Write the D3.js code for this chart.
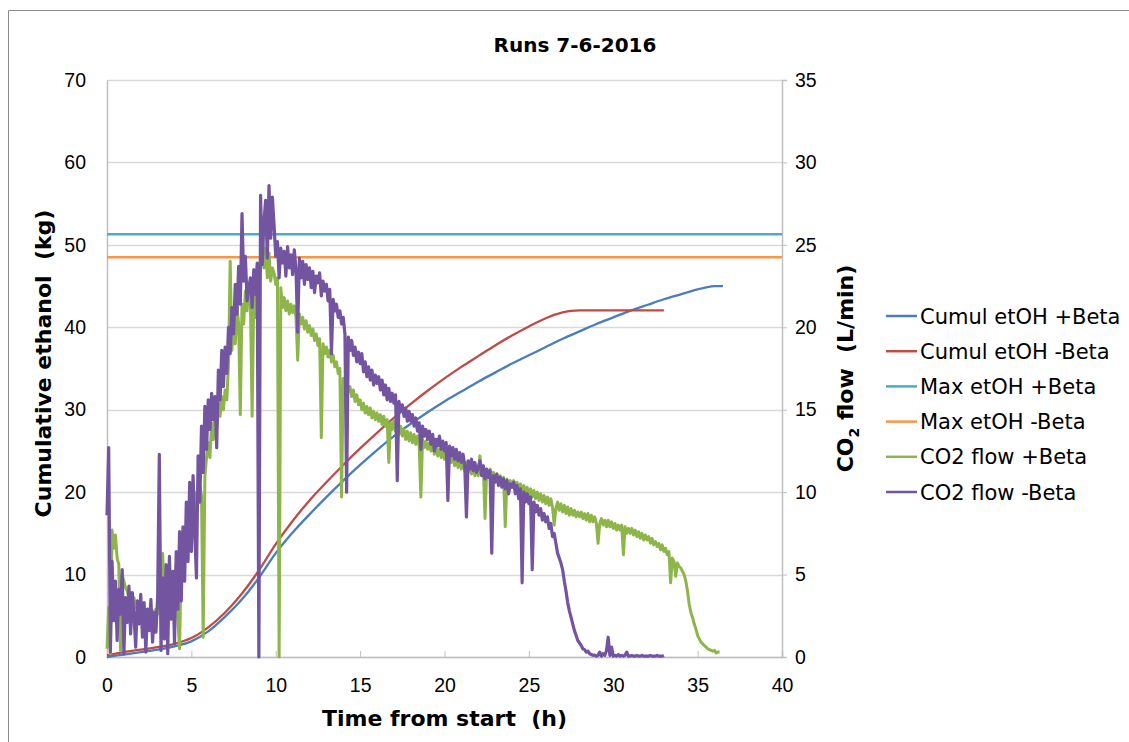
<!DOCTYPE html>
<html>
<head>
<meta charset="utf-8">
<script src="https://cdn.jsdelivr.net/npm/d3@7"></script>
<style>
  body { margin: 0; background: #fff; }
  svg { display: block; font-family: "DejaVu Sans", Verdana, sans-serif; }
</style>
</head>
<body>
<svg width="1129" height="742"></svg>
<script>
// cumulative ethanol (kg), left axis
const cumulPlusTime = [0, 1, 2, 3, 4, 5, 6, 7, 8, 9, 10, 11, 12, 13, 14, 15, 16, 17, 18, 19, 20, 21, 22, 23, 24, 25, 26, 27, 28, 29, 30, 31, 32, 33, 34, 35, 35.5, 36, 36.5];
const cumulPlus = [0, 0.3, 0.6, 0.9, 1.3, 1.9, 3.1, 4.9, 7.0, 9.6, 12.6, 15.1, 17.3, 19.4, 21.4, 23.3, 25.1, 26.8, 28.3, 29.7, 31.0, 32.2, 33.4, 34.5, 35.6, 36.6, 37.6, 38.6, 39.5, 40.4, 41.2, 42.0, 42.7, 43.4, 44.0, 44.6, 44.85, 45.0, 45.0];
const cumulMinusTime = [0, 1, 2, 3, 4, 5, 6, 7, 8, 9, 10, 11, 12, 13, 14, 15, 16, 17, 18, 19, 20, 21, 22, 23, 24, 25, 26, 27, 27.5, 28, 29, 30, 31, 32, 33];
const cumulMinus = [0.2, 0.6, 0.9, 1.2, 1.6, 2.3, 3.6, 5.4, 7.7, 10.5, 13.7, 16.5, 19.0, 21.2, 23.3, 25.3, 27.2, 29.0, 30.7, 32.3, 33.8, 35.2, 36.5, 37.8, 39.0, 40.1, 41.1, 41.8, 42.0, 42.05, 42.05, 42.05, 42.05, 42.05, 42.05];
const maxPlus = 51.3;
const maxMinus = 48.5;

// CO2 flow (L/min), right axis, logged every 0.1 h
const co2Step = 0.1;
const co2Plus = [
  0.5, 3.0, 0.2, 7.7, 6.6, 7.4, 6.0, 5.6, 0.4, 5.0,
  4.6, 4.2, 4.0, 3.6, 3.9, 3.3, 3.6, 3.0, 3.4, 2.8,
  3.2, 2.6, 3.0, 2.4, 2.9, 2.7, 2.2, 2.8, 2.5, 2.9,
  2.6, 3.4, 3.0, 6.3, 3.6, 4.2, 3.4, 4.8, 3.9, 5.2,
  4.4, 5.6, 2.2, 0.5, 5.9, 6.8, 6.1, 7.6, 7.0, 8.4,
  7.8, 9.2, 8.6, 10.0, 9.4, 10.4, 9.8, 1.2, 11.0, 12.1,
  13.0, 12.1, 14.2, 13.2, 14.8, 14.0, 15.4, 14.6, 15.8, 15.0,
  16.2, 15.6, 17.8, 24.0, 18.6, 20.0, 19.0, 21.2, 20.2, 14.7,
  21.4, 20.2, 22.2, 21.0, 22.6, 21.5, 14.6, 22.0, 20.6, 22.8,
  21.8, 24.4, 25.7, 23.6, 24.8, 23.0, 24.5, 22.8, 23.6, 23.3,
  22.6, 23.0, 0.0, 22.4, 21.2, 21.8, 21.0, 21.6, 20.8, 21.4,
  20.9, 21.3, 20.6, 18.0, 20.8, 20.2, 20.6, 19.9, 20.4, 19.7,
  20.1, 19.5, 19.9, 19.2, 19.6, 18.9, 19.3, 13.3, 19.0, 18.4,
  18.8, 18.2, 18.6, 17.9, 18.3, 17.6, 17.9, 17.2, 17.5, 9.7,
  16.9, 16.4, 16.8, 16.1, 16.4, 15.8, 16.2, 15.5, 15.9, 15.3,
  15.6, 15.0, 15.4, 14.8, 15.2, 14.7, 15.1, 14.5, 14.9, 14.4,
  14.8, 14.3, 14.7, 14.1, 14.6, 14.0, 14.4, 11.8, 14.2, 13.8,
  14.3, 13.7, 14.1, 13.5, 14.0, 13.4, 13.8, 13.2, 13.7, 13.1,
  13.6, 13.0, 13.5, 12.9, 13.4, 12.8, 9.7, 13.2, 12.7, 13.1,
  12.6, 13.0, 12.5, 12.9, 12.3, 12.8, 12.2, 12.6, 12.1, 12.5,
  12.0, 12.4, 11.9, 12.3, 11.8, 12.2, 11.6, 12.1, 11.5, 12.0,
  11.4, 11.9, 11.3, 11.8, 11.2, 11.7, 11.1, 11.6, 11.0, 11.5,
  11.0, 12.2, 11.2, 11.6, 8.4, 11.3, 10.9, 11.4, 10.8, 11.2,
  10.7, 11.1, 10.6, 11.0, 10.5, 10.9, 7.9, 10.8, 10.4, 10.7,
  10.3, 10.7, 10.2, 10.6, 10.1, 10.5, 10.0, 10.4, 9.9, 10.3,
  9.8, 10.2, 9.7, 10.1, 9.6, 10.0, 9.5, 9.9, 9.4, 9.8,
  9.3, 9.7, 9.2, 9.6, 9.1, 8.0, 9.0, 9.4, 8.9, 9.3,
  8.8, 9.2, 8.7, 9.1, 8.6, 9.0, 8.6, 8.9, 8.5, 8.8,
  8.5, 8.8, 8.4, 8.7, 8.3, 8.7, 8.2, 8.6, 8.2, 8.5,
  8.1, 6.9, 8.1, 8.4, 8.0, 8.3, 7.9, 8.3, 7.9, 8.2,
  7.8, 8.1, 7.7, 8.0, 7.7, 8.0, 6.2, 7.9, 7.5, 7.8,
  7.5, 7.8, 7.4, 7.7, 7.3, 7.6, 7.2, 7.5, 7.1, 7.4,
  7.1, 7.3, 6.9, 7.2, 6.8, 7.0, 6.7, 6.9, 6.5, 6.8,
  6.4, 6.6, 6.2, 6.4, 4.5, 6.0, 5.8, 4.9, 5.7, 5.5,
  5.4, 5.2, 5.0, 4.6, 4.0, 3.2, 2.7, 2.4, 2.0, 1.7,
  1.3, 1.1, 0.9, 0.8, 0.7, 0.6, 0.5, 0.45, 0.4, 0.35,
  0.4, 0.25, 0.3, 0.3
];
const co2Minus = [
  8.6, 12.7, 0.3, 5.8, 2.2, 4.6, 1.0, 4.1, 2.6, 5.3,
  0.2, 3.6, 2.1, 4.3, 1.4, 3.9, 2.5, 0.6, 3.4, 2.0,
  3.8, 1.2, 3.3, 0.3, 2.9, 1.6, 3.5, 0.9, 2.7, 1.5,
  3.6, 12.3, 0.4, 4.8, 1.1, 5.6, 0.2, 6.1, 2.3, 5.2,
  0.8, 6.4, 2.9, 7.6, 3.4, 7.9, 4.6, 9.4, 5.8, 10.6,
  6.4, 11.0, 7.6, 4.8, 12.2, 9.4, 14.0, 11.2, 15.2, 12.6,
  15.6, 13.8, 16.0, 14.4, 15.8, 12.7, 17.4, 15.6, 18.6, 16.4,
  18.8, 17.2, 20.0, 18.4, 21.2, 19.6, 22.6, 20.8, 23.7, 21.4,
  26.9, 22.8, 24.3, 21.6, 22.4, 23.0, 21.2, 23.5, 22.0, 23.9,
  0.0, 28.0, 23.8, 26.4, 27.7, 24.2, 28.6, 25.4, 27.9, 26.2,
  24.3, 25.2, 23.0, 24.8, 23.9, 24.6, 23.1, 24.9, 23.6, 24.4,
  23.2, 24.7, 23.5, 19.7, 24.2, 23.0, 24.0, 22.6, 23.8, 22.9,
  23.6, 22.4, 23.4, 22.1, 23.1, 22.7, 23.3, 21.9, 22.8, 22.2,
  22.6, 21.6, 22.3, 18.4, 21.7, 21.0, 21.4, 20.6, 21.0, 20.2,
  20.6, 19.6, 10.0, 19.4, 18.6, 19.2, 18.3, 18.8, 17.9, 18.5,
  17.8, 18.4, 17.3, 17.9, 17.0, 17.6, 16.8, 17.4, 16.5, 17.1,
  16.6, 17.0, 16.2, 16.8, 15.9, 16.5, 15.6, 16.3, 15.5, 16.0,
  15.4, 15.9, 10.7, 15.5, 14.9, 15.3, 14.6, 15.1, 14.3, 14.9,
  14.3, 14.7, 14.0, 14.5, 13.7, 14.2, 12.6, 14.0, 13.4, 13.8,
  13.2, 13.7, 12.9, 13.5, 12.5, 13.2, 12.8, 13.4, 12.6, 13.1,
  12.5, 13.0, 9.5, 12.8, 12.2, 12.7, 12.0, 12.6, 11.9, 12.4,
  11.8, 12.3, 11.6, 8.5, 11.9, 11.4, 12.0, 11.3, 11.8, 11.2,
  11.5, 11.9, 11.0, 11.6, 10.8, 11.4, 10.9, 11.3, 6.3, 11.0,
  10.6, 11.1, 10.4, 10.9, 10.3, 10.8, 10.2, 10.7, 9.9, 10.5,
  10.3, 10.6, 9.9, 10.4, 9.6, 10.2, 4.5, 10.0, 9.4, 9.9,
  9.3, 9.7, 5.3, 9.4, 8.8, 9.2, 8.6, 9.0, 8.3, 8.7,
  8.2, 8.5, 7.8, 8.1, 7.3, 7.5, 6.9, 6.3, 6.0, 5.7,
  5.3, 4.6, 4.0, 3.3, 2.8, 2.4, 2.0, 1.6, 1.3, 1.0,
  0.85, 0.7, 0.5, 0.45, 0.3, 0.35, 0.2, 0.15, 0.1, 0.12,
  0.05, 0.1, 0.3, 0.05, 0.2, 0.1, 0.4, 1.2, 0.1, 0.6,
  0.05, 0.1, 0.05, 0.15, 0.05, 0.1, 0.05, 0.1, 0.3, 0.05,
  0.05, 0.1, 0.05, 0.05, 0.1, 0.05, 0.05, 0.1, 0.05, 0.05,
  0.05, 0.05, 0.1, 0.05, 0.05, 0.05, 0.1, 0.05, 0.05, 0.05,
  0.1
];

const xTicks = [0, 5, 10, 15, 20, 25, 30, 35, 40];
const leftTicks = [0, 10, 20, 30, 40, 50, 60, 70];
const rightTicks = [0, 5, 10, 15, 20, 25, 30, 35];

const legendNames = ['Cumul etOH +Beta', 'Cumul etOH -Beta', 'Max etOH +Beta', 'Max etOH -Beta', 'CO2 flow +Beta', 'CO2 flow -Beta'];
const colors = ['#4a7ebb', '#be4b48', '#4bacc6', '#f79646', '#8db54a', '#7354a0'];

const svg = d3.select('svg');
const margin = { top: 80, right: 347, bottom: 85, left: 107 };
const width = 1129 - margin.left - margin.right;
const height = 742 - margin.top - margin.bottom;

// chart area border
svg.append('path')
    .attr('d', 'M8.5,742 L8.5,10.5 L1129,10.5')
    .attr('fill', 'none')
    .attr('stroke', '#8c8c8c')
    .attr('stroke-width', 1);

const x = d3.scaleLinear().domain([0, 40]).range([0, width]);
const yL = d3.scaleLinear().domain([0, 70]).range([height, 0]);
const yR = d3.scaleLinear().domain([0, 35]).range([height, 0]);

const g = svg.append('g').attr('transform', `translate(${margin.left},${margin.top})`);

// grid
g.append('g')
    .selectAll('line')
    .data(leftTicks)
    .enter()
    .append('line')
    .attr('x1', 0)
    .attr('x2', width)
    .attr('y1', (d) => Math.round(yL(d)) + 0.5)
    .attr('y2', (d) => Math.round(yL(d)) + 0.5)
    .attr('stroke', '#d9d9d9')
    .attr('stroke-width', 1.5);

// x轴
const xAxis = g.append('g')
    .attr('transform', `translate(0,${height})`)
    .call(d3.axisBottom(x).tickValues(xTicks).tickSize(-6).tickPadding(21));
xAxis.select('.domain').attr('stroke', '#bfbfbf').attr('stroke-width', 1.5);
xAxis.selectAll('.tick line').attr('stroke', '#bfbfbf');
xAxis.selectAll('text').attr('fill', '#000').style('font-size', '19.5px');

// left y轴
const yAxisL = g.append('g')
    .call(d3.axisLeft(yL).tickValues(leftTicks).tickSize(0).tickPadding(21));
yAxisL.select('.domain').attr('stroke', '#bfbfbf').attr('stroke-width', 1.5);
yAxisL.selectAll('text').attr('fill', '#000').style('font-size', '19.5px');

// right y轴
const yAxisR = g.append('g')
    .attr('transform', `translate(${width},0)`)
    .call(d3.axisRight(yR).tickValues(rightTicks).tickSize(5).tickPadding(8));
yAxisR.select('.domain').attr('stroke', '#bfbfbf').attr('stroke-width', 1.5);
yAxisR.selectAll('.tick line').attr('stroke', '#bfbfbf');
yAxisR.selectAll('text').attr('fill', '#000').style('font-size', '19.5px');

// ethanol lines
const cumulLine = d3.line()
    .x((d) => x(d[0]))
    .y((d) => yL(d[1]))
    .curve(d3.curveMonotoneX);

g.append('path')
    .datum(cumulPlusTime.map((t, i) => [t, cumulPlus[i]]))
    .attr('fill', 'none')
    .attr('stroke', colors[0])
    .attr('stroke-width', 2.3)
    .attr('d', cumulLine);

g.append('path')
    .datum(cumulMinusTime.map((t, i) => [t, cumulMinus[i]]))
    .attr('fill', 'none')
    .attr('stroke', colors[1])
    .attr('stroke-width', 2.3)
    .attr('d', cumulLine);

[maxPlus, maxMinus].forEach((v, i) => {
    g.append('line')
        .attr('x1', x(0))
        .attr('x2', x(40))
        .attr('y1', yL(v))
        .attr('y2', yL(v))
        .attr('stroke', colors[2 + i])
        .attr('stroke-width', 2.5);
});

// CO2 lines
const co2Line = d3.line()
    .x((d, i) => x(i * co2Step))
    .y((d) => yR(d));

g.append('path')
    .datum(co2Plus)
    .attr('fill', 'none')
    .attr('stroke', colors[4])
    .attr('stroke-width', 3)
    .attr('stroke-linejoin', 'round')
    .attr('d', co2Line);

g.append('path')
    .datum(co2Minus)
    .attr('fill', 'none')
    .attr('stroke', colors[5])
    .attr('stroke-width', 3.2)
    .attr('stroke-linejoin', 'round')
    .attr('d', co2Line);

// title
svg.append('text')
    .attr('x', 575)
    .attr('y', 52)
    .attr('text-anchor', 'middle')
    .style('font-size', '20px')
    .style('font-weight', 'bold')
    .text('Runs 7-6-2016');

// axis titles
svg.append('text')
    .attr('x', margin.left + width / 2)
    .attr('y', 726)
    .attr('text-anchor', 'middle')
    .style('font-size', '22px')
    .style('font-weight', 'bold')
    .style('white-space', 'pre')
    .text('Time from start  (h)');

svg.append('text')
    .attr('transform', `translate(51,${margin.top + height / 2 - 5}) rotate(-90)`)
    .attr('text-anchor', 'middle')
    .style('font-size', '22px')
    .style('font-weight', 'bold')
    .style('white-space', 'pre')
    .text('Cumulative ethanol  (kg)');

const rt = svg.append('text')
    .attr('transform', `translate(853,${margin.top + height / 2}) rotate(-90)`)
    .attr('text-anchor', 'middle')
    .style('font-size', '22px')
    .style('font-weight', 'bold')
    .style('white-space', 'pre');
rt.append('tspan').text('CO');
rt.append('tspan').attr('dy', 6).style('font-size', '14px').text('2');
rt.append('tspan').attr('dy', -6).text(' flow  (L/min)');

// legend
const legend = svg.append('g').attr('transform', 'translate(886,316)');
legendNames.forEach((name, i) => {
    const row = legend.append('g').attr('transform', `translate(0,${i * 35.2})`);
    row.append('line')
        .attr('x1', 0)
        .attr('x2', 31)
        .attr('stroke', colors[i])
        .attr('stroke-width', 2.5);
    row.append('text')
        .attr('x', 34)
        .attr('dy', '0.36em')
        .style('font-size', '21px')
        .text(name);
});
</script>
</body>
</html>
